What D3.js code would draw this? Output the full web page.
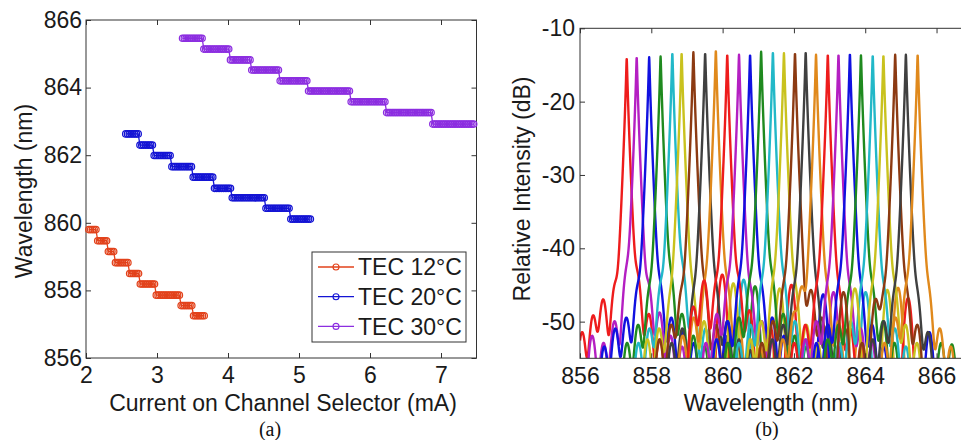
<!DOCTYPE html>
<html>
<head>
<meta charset="utf-8">
<script src="https://cdn.jsdelivr.net/npm/d3@7"></script>
<style>
  html, body { margin: 0; padding: 0; background: #fff; }
  svg { display: block; font-family: "Liberation Sans", Arial, Helvetica, sans-serif; }
  .tick text { font-size: 23px; fill: #1a1a1a; }
  .tick line { stroke: #333; stroke-width: 1; }
  .domain { display: none; }
</style>
</head>
<body>
<svg id="fig" width="961" height="440"></svg>
<script>
// ---------------- Panel (a): wavelength vs channel-selector current ----------------
const tecLabels = ["TEC 12°C", "TEC 20°C", "TEC 30°C"];
const currentTicks = [2, 3, 4, 5, 6, 7];
const wavelengthTicksA = [856, 858, 860, 862, 864, 866];

// current sweep: first / last recorded current (mA) and increment
const sweepStart = [2.04, 2.56, 3.36];
const sweepEnd   = [3.68, 5.18, 7.46];
const sweepStep  = 0.025;

// currents (mA) at which the laser hops to the next channel
const hopCurrents12 = [2.15, 2.30, 2.41, 2.61, 2.76, 2.97, 3.33, 3.51];
const hopCurrents20 = [2.74, 2.96, 3.21, 3.50, 3.81, 4.05, 4.52, 4.87];
const hopCurrents30 = [3.66, 4.02, 4.32, 4.73, 5.12, 5.72, 6.23, 6.88];

// lasing wavelength (nm) on each plateau
const plateau12 = [859.80, 859.47, 859.15, 858.82, 858.50, 858.19, 857.86, 857.55, 857.25];
const plateau20 = [862.63, 862.30, 861.99, 861.66, 861.35, 861.02, 860.74, 860.43, 860.11];
const plateau30 = [865.46, 865.14, 864.82, 864.52, 864.20, 863.90, 863.58, 863.26, 862.92];

// ---------------- Panel (b): optical spectra of the 27 channels ----------------
const wavelengthTicksB = [856, 858, 860, 862, 864, 866];
const intensityTicks = [-50, -40, -30, -20, -10];

const channelWavelengths = [
  857.31, 857.59, 857.94, 858.26, 858.59, 858.85, 859.18, 859.51, 859.81,
  860.13, 860.46, 860.77, 861.08, 861.41, 861.72, 862.03, 862.33, 862.62,
  862.95, 863.25, 863.57, 863.88, 864.21, 864.51, 864.84, 865.14, 865.47
];
const channelPeaks = [
  -14.1, -13.95, -13.95, -13.85, -13.4, -13.4, -13.27, -13.4, -13.05,
  -13.6, -13.6, -13.6, -13.2, -13.27, -13.4, -13.4, -13.27, -13.6,
  -13.6, -13.6, -13.5, -13.7, -13.7, -13.7, -13.6, -13.6, -13.6
];
// side modes of each channel: [offset from the lasing line (nm), level (dB)]
const sideModes = [
  [[-1.25,-51.5],[-0.94,-49.2],[-0.66,-47.0],[-0.33,-45.6],[0.30,-44.3],[0.62,-49.0],[0.93,-52.5],[2.68,-43.6]],
  [[-1.25,-52.0],[-0.93,-53.0],[-0.62,-50.0],[-0.28,-43.8],[0.33,-45.5],[0.64,-48.8],[0.95,-52.0],[1.27,-53.5]],
  [[-1.26,-53.5],[-0.95,-51.0],[-0.64,-49.5],[-0.32,-46.0],[0.30,-45.8],[0.62,-49.5],[0.94,-51.5],[1.25,-53.0],[2.20,-52.0]],
  [[-0.94,-53.0],[-0.63,-50.5],[-0.31,-46.5],[0.28,-44.5],[0.60,-49.0],[0.92,-52.0],[1.24,-53.5],[2.65,-45.2]],
  [[-0.95,-53.0],[-0.64,-51.0],[-0.32,-45.5],[0.28,-43.5],[0.60,-48.0],[0.93,-51.0],[1.25,-52.5],[2.00,-44.3]],
  [[-0.96,-52.5],[-0.63,-51.0],[-0.31,-47.5],[0.30,-46.5],[0.63,-50.0],[1.00,-53.0],[1.45,-44.8],[2.75,-45.5]],
  [[-0.95,-52.5],[-0.62,-50.5],[-0.33,-46.5],[0.31,-46.0],[0.64,-50.5],[0.95,-53.0],[1.26,-53.5]],
  [[-0.94,-53.0],[-0.64,-51.0],[-0.31,-47.0],[0.30,-46.5],[0.62,-50.0],[0.95,-52.5],[1.27,-54.0]],
  [[-0.93,-52.0],[-0.62,-49.5],[-0.30,-46.0],[0.31,-45.5],[0.63,-49.5],[0.96,-52.5],[1.25,-53.5]],
  [[-0.95,-48.0],[-0.65,-44.4],[-0.31,-45.5],[0.31,-45.0],[0.62,-48.5],[1.20,-50.5],[1.80,-45.0]],
  [[-0.93,-53.0],[-0.62,-49.0],[-0.31,-45.5],[0.32,-46.5],[0.64,-50.0],[0.95,-52.5],[2.65,-46.0]],
  [[-0.94,-52.5],[-0.63,-50.0],[-0.30,-45.5],[0.31,-46.0],[0.62,-49.5],[0.95,-52.0],[2.05,-46.3]],
  [[-0.93,-53.0],[-0.62,-49.5],[-0.31,-45.5],[0.30,-44.8],[0.62,-49.0],[0.94,-52.0],[1.26,-53.5]],
  [[-0.95,-53.0],[-0.63,-50.5],[-0.31,-45.8],[0.30,-45.3],[0.62,-50.0],[0.94,-52.5],[2.60,-46.0]],
  [[-0.94,-52.5],[-0.64,-50.0],[-0.30,-45.8],[0.31,-46.0],[0.63,-50.5],[0.95,-53.0],[2.90,-45.7]],
  [[-0.93,-53.0],[-0.62,-50.0],[-0.31,-46.0],[0.45,-45.8],[0.75,-49.5],[1.40,-51.0]],
  [[-0.94,-52.5],[-0.63,-50.5],[-0.32,-46.5],[0.30,-46.8],[0.62,-50.5],[0.94,-53.0]],
  [[-0.93,-52.5],[-0.62,-49.0],[-0.40,-45.5],[0.31,-46.5],[0.63,-50.0],[1.20,-51.5],[2.30,-45.4]],
  [[-0.94,-53.0],[-0.63,-50.5],[-0.31,-46.5],[0.31,-46.8],[0.63,-51.0],[0.95,-53.0],[2.25,-46.8]],
  [[-0.93,-52.5],[-0.62,-50.0],[-0.30,-46.0],[0.31,-46.5],[0.62,-51.0],[0.94,-53.0]],
  [[-0.94,-53.0],[-0.62,-50.5],[-0.31,-46.0],[0.30,-46.5],[0.62,-50.5],[0.95,-53.5],[2.23,-51.5]],
  [[-0.93,-52.5],[-0.63,-50.5],[-0.32,-46.5],[0.31,-46.0],[0.62,-50.0],[0.94,-53.0],[2.25,-53.0],[2.55,-53.2]],
  [[-0.94,-53.0],[-0.62,-50.0],[-0.30,-46.0],[0.31,-46.5],[0.62,-51.0],[0.93,-53.5]],
  [[-0.80,-45.5],[-0.31,-46.5],[0.31,-46.0],[0.62,-50.5],[0.94,-53.0]],
  [[-1.45,-46.0],[-0.93,-53.0],[-0.55,-47.0],[-0.31,-47.0],[0.31,-46.5],[0.62,-50.5]],
  [[-0.93,-52.5],[-0.62,-50.0],[-0.31,-46.8],[0.31,-47.0],[0.62,-51.5]],
  [[-0.93,-53.0],[-0.62,-49.5],[-0.31,-46.0],[0.30,-46.5],[0.62,-51.0],[0.93,-53.5]]
];

// ---------------- styling ----------------
const tecColors = ["#e2421b", "#1414d4", "#8c2ee0"];
const spectrumPalette = ["#ee1c1c", "#b41fc2", "#1111e0", "#1f8a1f", "#22b8c8",
                         "#c9c21e", "#8c3a12", "#404040", "#e0891c"];
const frameColor = "#333";

const svg = d3.select("#fig");

function frame(g, x0, y0, x1, y1) {
  g.append("rect").attr("x", x0).attr("y", y0)
    .attr("width", x1 - x0).attr("height", y1 - y0)
    .attr("fill", "none").attr("stroke", frameColor).attr("stroke-width", 1);
}

// =============== Panel (a) ===============
const A = { left: 86, right: 476.5, top: 20, bottom: 358 };
const xA = d3.scaleLinear().domain([2, 7.5]).range([A.left, A.right]);
const yA = d3.scaleLinear().domain([856, 866]).range([A.bottom, A.top]);

const gA = svg.append("g");

gA.append("g").attr("transform", `translate(0,${A.bottom})`)
  .call(d3.axisBottom(xA).tickValues(currentTicks).tickFormat(d3.format("d"))
    .tickSizeInner(-5).tickSizeOuter(0).tickPadding(9));
gA.append("g").attr("transform", `translate(0,${A.top})`)
  .call(d3.axisTop(xA).tickValues(currentTicks).tickFormat("")
    .tickSizeInner(-5).tickSizeOuter(0));
gA.append("g").attr("transform", `translate(${A.left},0)`)
  .call(d3.axisLeft(yA).tickValues(wavelengthTicksA).tickFormat(d3.format("d"))
    .tickSizeInner(-5).tickSizeOuter(0).tickPadding(4));
gA.append("g").attr("transform", `translate(${A.right},0)`)
  .call(d3.axisRight(yA).tickValues(wavelengthTicksA).tickFormat("")
    .tickSizeInner(-5).tickSizeOuter(0));
frame(gA, A.left, A.top, A.right, A.bottom);

const hopTables = [hopCurrents12, hopCurrents20, hopCurrents30];
const plateauTables = [plateau12, plateau20, plateau30];

const seriesA = tecLabels.map((label, s) => {
  const currents = d3.range(sweepStart[s], sweepEnd[s] + 1e-9, sweepStep);
  const pts = currents.map(c => {
    const idx = d3.bisectRight(hopTables[s], c);
    return { c, w: plateauTables[s][idx] };
  });
  return { label, color: tecColors[s], pts };
});

const lineA = d3.line().x(d => xA(d.c)).y(d => yA(d.w));
seriesA.forEach(s => {
  const g = gA.append("g");
  g.append("path").attr("d", lineA(s.pts))
    .attr("fill", "none").attr("stroke", s.color).attr("stroke-width", 1.3);
  g.selectAll("circle").data(s.pts).join("circle")
    .attr("cx", d => xA(d.c)).attr("cy", d => yA(d.w)).attr("r", 3.2)
    .attr("fill", "none").attr("stroke", s.color).attr("stroke-width", 1.25);
});

// legend
const leg = gA.append("g");
leg.append("rect").attr("x", 312).attr("y", 252).attr("width", 154).attr("height", 90)
  .attr("fill", "#fff").attr("stroke", frameColor).attr("stroke-width", 1);
seriesA.forEach((s, i) => {
  const yy = 267 + i * 29.7;
  leg.append("line").attr("x1", 318).attr("x2", 354).attr("y1", yy).attr("y2", yy)
    .attr("stroke", s.color).attr("stroke-width", 1.3);
  leg.append("circle").attr("cx", 336).attr("cy", yy).attr("r", 3)
    .attr("fill", "none").attr("stroke", s.color).attr("stroke-width", 1.1);
  leg.append("text").attr("x", 358).attr("y", yy).attr("dy", "0.36em")
    .attr("font-size", 23).attr("fill", "#1a1a1a").text(s.label);
});

gA.append("text").attr("transform", "translate(24,191) rotate(-90)")
  .attr("text-anchor", "middle").attr("dy", "0.36em").attr("font-size", 23)
  .attr("fill", "#1a1a1a").text("Wavelength (nm)");
gA.append("text").attr("x", 283).attr("y", 403).attr("dy", "0.36em")
  .attr("text-anchor", "middle").attr("font-size", 23).attr("fill", "#1a1a1a")
  .text("Current on Channel Selector (mA)");
gA.append("text").attr("x", 270).attr("y", 429).attr("dy", "0.34em")
  .attr("text-anchor", "middle").attr("font-size", 20).attr("fill", "#111")
  .attr("font-family", "'Liberation Serif', 'Times New Roman', serif").text("(a)");

// =============== Panel (b) ===============
const B = { left: 580, right: 961.5, top: 28.3, bottom: 358.3 };
const xB = d3.scaleLinear().domain([856, 866.7]).range([B.left, B.right]);
const yB = d3.scaleLinear().domain([-55, -10]).range([B.bottom, B.top]);

const gB = svg.append("g");
svg.append("defs").append("clipPath").attr("id", "clipB")
  .append("rect").attr("x", B.left).attr("y", B.top)
  .attr("width", B.right - B.left).attr("height", B.bottom - B.top);

// line shape of a lasing line and of its side modes (dB)
const MAIN_A = 94, MAIN_W = 0.008, MAIN_P = 0.8, SIDE_K = 320, FLOOR = -70;
const grid = d3.range(856, 866.72, 0.004);
function spectrum(k) {
  const c = channelWavelengths[k], pk = channelPeaks[k];
  return grid.map(w => {
    const d = Math.abs(w - c);
    let lin = Math.pow(10, (pk - MAIN_A * Math.pow(Math.sqrt(d * d + MAIN_W * MAIN_W) - MAIN_W, MAIN_P)) / 10);
    for (const [off, lvl] of sideModes[k]) {
      const ds = w - (c + off);
      lin += Math.pow(10, (lvl - SIDE_K * ds * ds) / 10);
    }
    lin += Math.pow(10, FLOOR / 10);
    return [w, 10 * Math.log10(lin)];
  });
}

const lineB = d3.line().x(d => xB(d[0])).y(d => yB(d[1]));
const specG = gB.append("g").attr("clip-path", "url(#clipB)");
channelWavelengths.forEach((_, k) => {
  specG.append("path").attr("d", lineB(spectrum(k)))
    .attr("fill", "none").attr("stroke", spectrumPalette[k % spectrumPalette.length])
    .attr("stroke-width", 2.4).attr("stroke-linejoin", "round");
});

gB.append("g").attr("transform", `translate(0,${B.bottom})`)
  .call(d3.axisBottom(xB).tickValues(wavelengthTicksB).tickFormat(d3.format("d"))
    .tickSizeInner(-5).tickSizeOuter(0).tickPadding(9));
gB.append("g").attr("transform", `translate(0,${B.top})`)
  .call(d3.axisTop(xB).tickValues(wavelengthTicksB).tickFormat("")
    .tickSizeInner(-5).tickSizeOuter(0));
gB.append("g").attr("transform", `translate(${B.left},0)`)
  .call(d3.axisLeft(yB).tickValues(intensityTicks).tickFormat(d => String(d))
    .tickSizeInner(-5).tickSizeOuter(0).tickPadding(5));
frame(gB, B.left, B.top, B.right, B.bottom);

gB.append("text").attr("transform", "translate(522,189) rotate(-90)")
  .attr("text-anchor", "middle").attr("dy", "0.36em").attr("font-size", 23)
  .attr("fill", "#1a1a1a").text("Relative Intensity (dB)");
gB.append("text").attr("x", 771).attr("y", 403).attr("dy", "0.36em")
  .attr("text-anchor", "middle").attr("font-size", 23).attr("fill", "#1a1a1a")
  .text("Wavelength (nm)");
gB.append("text").attr("x", 767).attr("y", 429).attr("dy", "0.34em")
  .attr("text-anchor", "middle").attr("font-size", 20).attr("fill", "#111")
  .attr("font-family", "'Liberation Serif', 'Times New Roman', serif").text("(b)");
</script>
</body>
</html>
